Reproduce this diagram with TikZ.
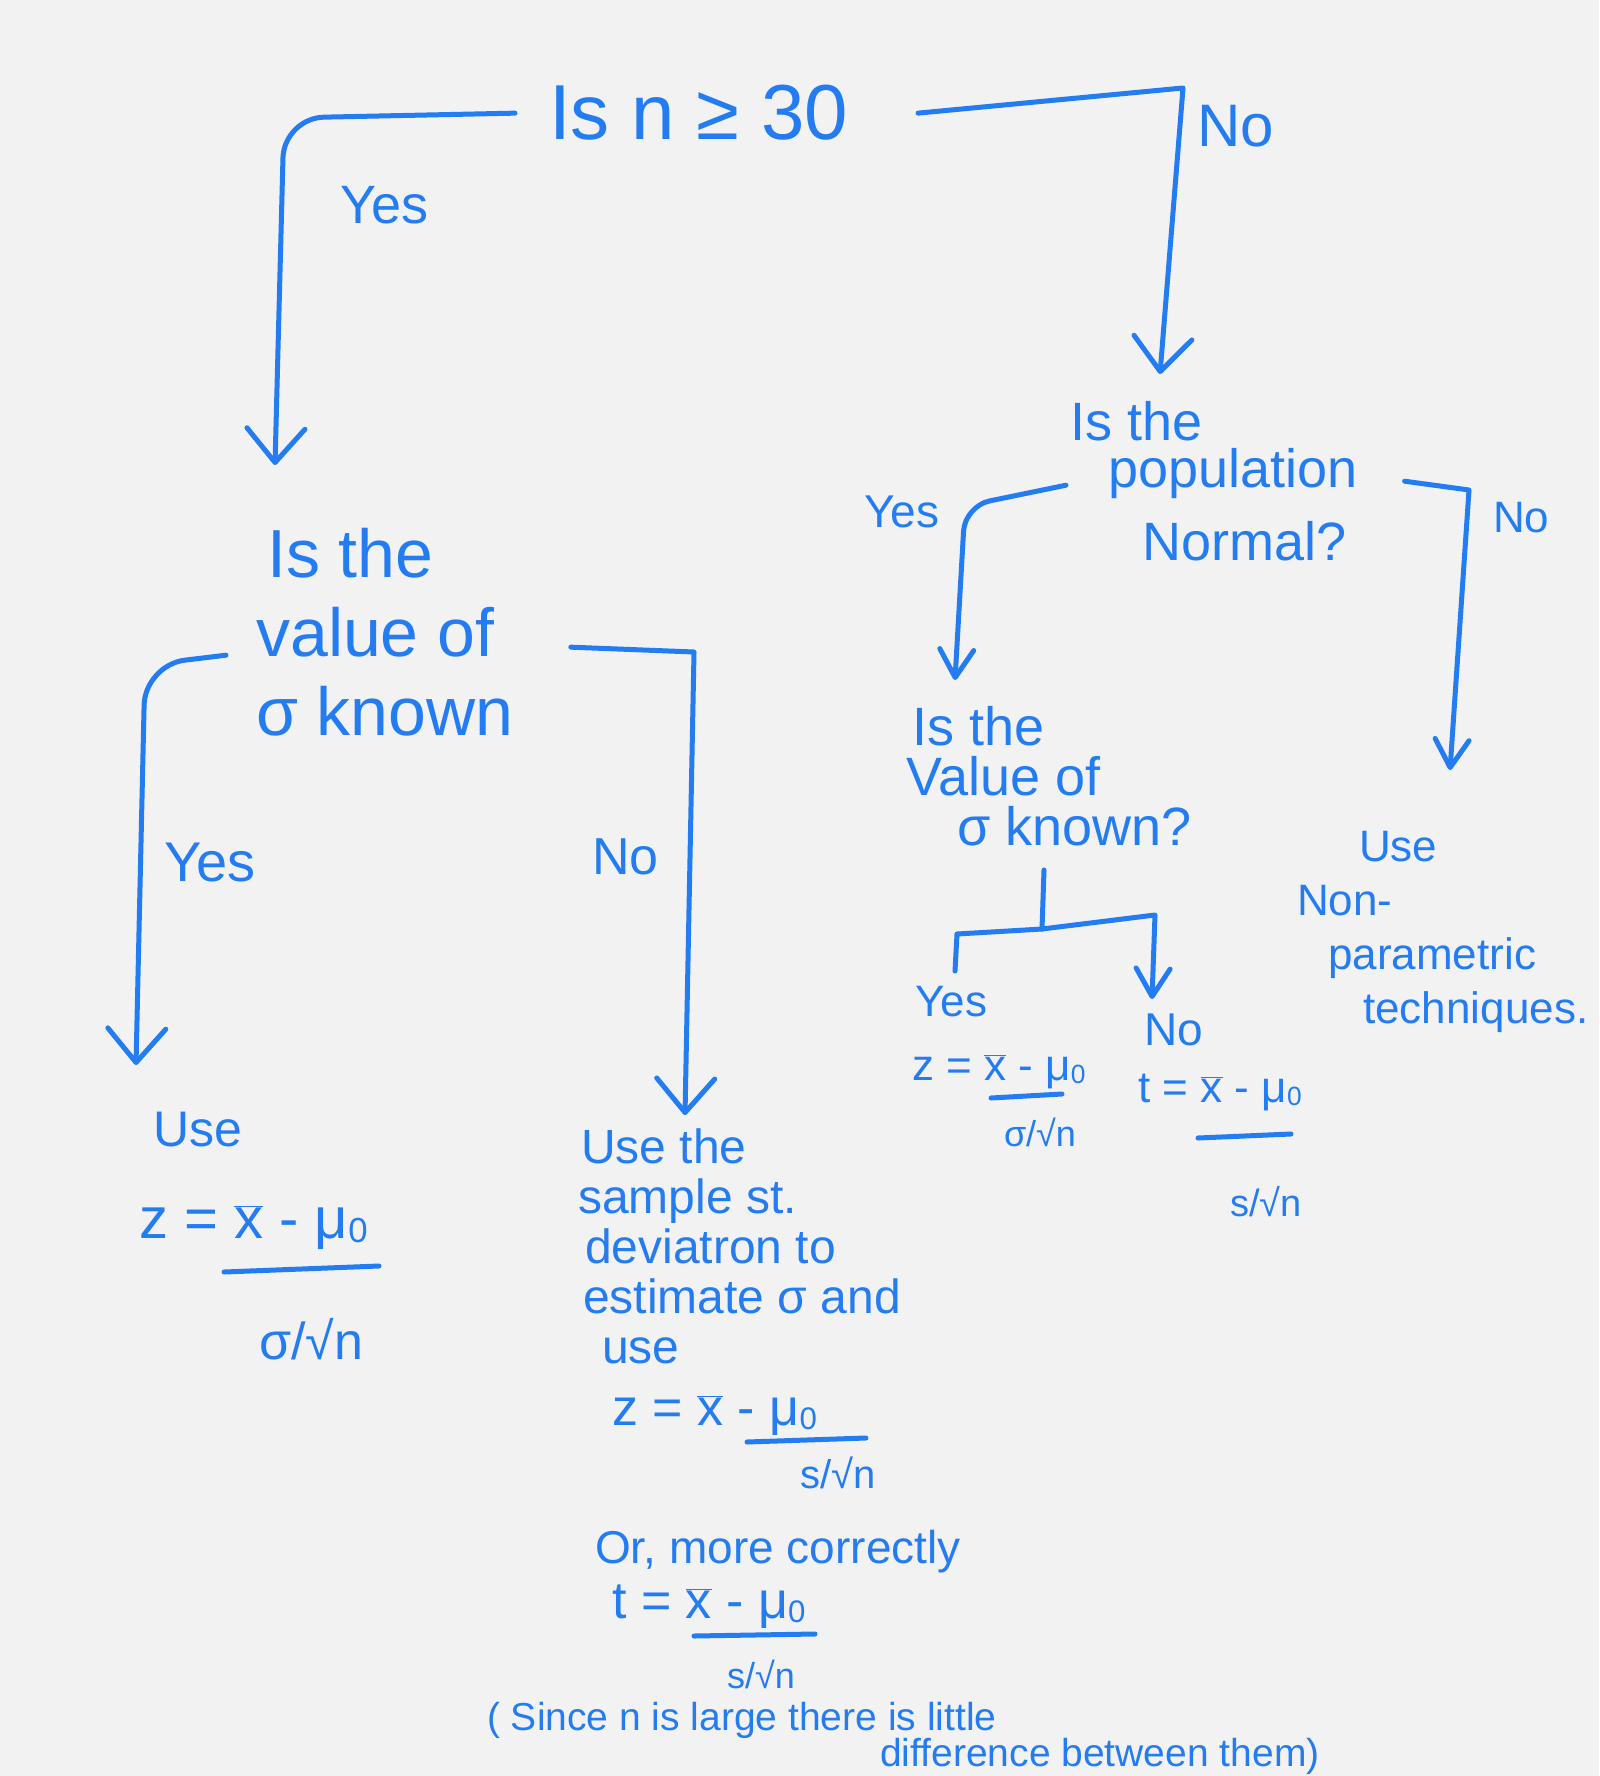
\documentclass[tikz,border=0pt]{standalone}
\usepackage{fontspec}
\setmainfont{Liberation Sans}
\usetikzlibrary{arrows.meta}
\definecolor{ink}{RGB}{36,124,242}
\definecolor{paper}{RGB}{242,242,242}
\newcommand\xbr{\ensuremath{\overline{\mbox{x}}}}
\newcommand\muo{μ\raisebox{-0.08em}{\scalebox{0.6}{0}}}
\newcommand\fsz[2]{\fontsize{#1}{#2}\selectfont}
\begin{document}
\begin{tikzpicture}[x=1pt,y=-1pt,
  txt/.style={text=ink, inner sep=0pt, anchor=base west},
  ctxt/.style={text=ink, inner sep=0pt, anchor=base},
  blk/.style={text=ink, inner sep=0pt, anchor=north west, align=left},
  conn/.style={draw=ink, line width=5pt, line cap=round, line join=round},
  bigarr/.style={conn, -{Straight Barb[length=34pt,width=58pt,round]}},
  smallarr/.style={conn, -{Straight Barb[length=28pt,width=34pt,round]}},
  fracline/.style={draw=ink, line width=5pt, line cap=round}]
\fill[paper] (0,0) rectangle (1599,1776);
\useasboundingbox (0,0) rectangle (1599,1776);

% top question
\node[txt, font=\fsz{78}{86}] (q1) at (549,140) {Is n ≥ 30};
\node[txt, font=\fsz{54}{60}] (yes1) at (340,224) {Yes};
\node[txt, font=\fsz{60}{66}] (no1) at (1197,147) {No};
\coordinate (a1) at (275,465);
\coordinate (b1) at (1160,374);
\draw[bigarr, rounded corners=40pt] ([xshift=-34pt]q1.west) -- (284,118) -- (a1);
\draw[bigarr] ([xshift=70pt]q1.east) -- (1183,88) -- (b1);

% right question: population normal
\node[blk, font=\fsz{54}{47}] (q3) at (1070,401) {Is the\\\hspace*{38pt}population\\[22pt]\hspace*{72pt}Normal?};
\node[txt, font=\fsz{46}{50}] (yes2) at (864,527) {Yes};
\node[txt, font=\fsz{44}{50}] (no2) at (1493,532) {No};
\coordinate (c1) at (955,680);
\coordinate (d1) at (1450,770);
\draw[smallarr, rounded corners=25pt] ([xshift=-4pt,yshift=-4pt]q3.west) -- (965,506) -- (c1);
\draw[smallarr] ([xshift=47pt]q3.east) -- (1469,490) -- (d1);

% sigma known (right)
\node[blk, font=\fsz{54}{50}] (q4) at (906,706) {\hspace*{6pt}Is the\\Value of\\\hspace*{51pt}σ known?};
\coordinate (t0) at (1044,870);
\coordinate (tj) at (1042,929);
\coordinate (tl) at (955,971);
\coordinate (tr) at (1152,999);
\draw[conn] (t0) -- (tj);
\draw[conn] (tj) -- (957,934) -- (tl);
\draw[smallarr] (tj) -- (1155,915) -- (tr);

\node[txt, font=\fsz{44}{50}] (yes3) at (915,1016) {Yes};
\node[txt, font=\fsz{44}{50}] (z1) at (912,1080) {z = \xbr\ - \muo};
\draw[fracline] (991,1098) -- (1062,1094);
\node[ctxt, font=\fsz{36}{40}] (z1d) at (1040,1146) {σ/√n};
\node[txt, font=\fsz{46}{50}] (no3) at (1144,1045) {No};
\node[txt, font=\fsz{44}{50}] (t1) at (1138,1102) {t = \xbr\ - \muo};
\draw[fracline] (1198,1138) -- (1291,1134);
\node[ctxt, font=\fsz{38}{40}] (t1d) at (1266,1216) {s/√n};

% non-parametric
\node[blk, font=\fsz{44}{54}] (np) at (1297,831) {\hspace*{62pt}Use\\Non-\\\hspace*{31pt}parametric\\\hspace*{66pt}techniques.};

% left question
\node[blk, font=\fsz{68}{79}] (q2) at (256,528) {\hspace*{11pt}Is the\\value of\\σ known};
\node[txt, font=\fsz{56}{60}] (yes4) at (164,881) {Yes};
\node[txt, font=\fsz{52}{60}] (no4) at (592,874) {No};
\coordinate (e1) at (136,1065);
\coordinate (f1) at (685,1115);
\draw[bigarr, rounded corners=40pt] ([xshift=-30pt,yshift=-23pt]q2.west) -- (145,665) -- (e1);
\draw[bigarr] ([xshift=57pt,yshift=-15pt]q2.east) -- (694,652) -- (f1);

% left result
\node[txt, font=\fsz{50}{56}] (use1) at (153,1146) {Use};
\node[txt, font=\fsz{58}{64}] (z2) at (139,1238) {z = \xbr\ - \muo};
\draw[fracline] (224,1272) -- (379,1266);
\node[ctxt, font=\fsz{52}{56}] (z2d) at (311,1359) {σ/√n};

% middle result
\node[blk, font=\fsz{48}{50}] (mid) at (578,1129) {\hspace*{3pt}Use the\\sample st.\\\hspace*{7pt}deviatron to\\\hspace*{5pt}estimate σ and\\\hspace*{24pt}use};
\node[txt, font=\fsz{52}{56}] (z3) at (612,1425) {z = \xbr\ - \muo};
\draw[fracline] (747,1442) -- (866,1438);
\node[ctxt, font=\fsz{40}{44}] (z3d) at (838,1488) {s/√n};
\node[txt, font=\fsz{46}{50}] (or) at (595,1563) {Or, more correctly};
\node[txt, font=\fsz{52}{56}] (t2) at (612,1618) {t = \xbr\ - \muo};
\draw[fracline] (694,1636) -- (815,1634);
\node[ctxt, font=\fsz{36}{40}] (t2d) at (761,1688) {s/√n};
\node[txt, font=\fsz{39}{44}] (note1) at (487,1730) {( Since n is large there is little};
\node[txt, font=\fsz{39}{44}] (note2) at (880,1766) {difference between them)};
\end{tikzpicture}
\end{document}
